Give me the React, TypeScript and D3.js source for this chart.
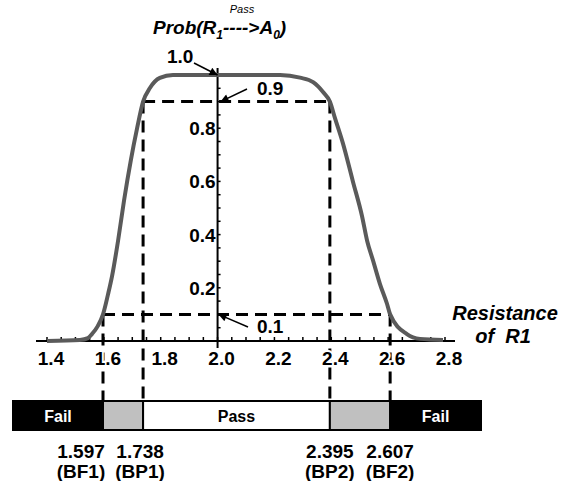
import * as d3 from "d3";

// curve
const resistance = [1.4, 1.516, 1.544, 1.558, 1.579, 1.597, 1.615, 1.629, 1.65, 1.671, 1.695, 1.717, 1.738, 1.762, 1.797, 1.843, 2.22, 2.29, 2.336, 2.371, 2.395, 2.413, 2.441, 2.476, 2.508, 2.526, 2.547, 2.571, 2.596, 2.607, 2.666, 2.712, 2.793];
const prob = [0, 0.004, 0.011, 0.026, 0.057, 0.1, 0.177, 0.245, 0.377, 0.528, 0.68, 0.8, 0.9, 0.951, 0.989, 1.0, 1.0, 0.99, 0.973, 0.936, 0.9, 0.838, 0.743, 0.6, 0.47, 0.377, 0.302, 0.215, 0.14, 0.1, 0.026, 0.008, 0.004];

const xTicks = [1.4, 1.6, 1.8, 2.0, 2.2, 2.4, 2.6, 2.8];
const yTicks = [0.2, 0.4, 0.6, 0.8];

const breakValues = [1.597, 1.738, 2.395, 2.607];
const breakNames = ["(BF1)", "(BP1)", "(BP2)", "(BF2)"];
const breakLevels = [0.1, 0.9, 0.9, 0.1];

const zoneLabels = ["Fail", "", "Pass", "", "Fail"];
const zoneFills = ["#000", "#c0c0c0", "#fff", "#c0c0c0", "#000"];
const zoneText = ["#fff", "#000", "#000", "#000", "#fff"];

const FONT = "'Liberation Sans', Arial, Helvetica, sans-serif";
const BAR = { left: 13, right: 481, top: 401, bottom: 430 };

export default function App() {
  const x = d3.scaleLinear().domain([1.4, 2.8]).range([47, 445]);
  const y = d3.scaleLinear().domain([0, 1]).range([341, 75]);

  const line = d3
    .line<number>()
    .x((_, i) => x(resistance[i]))
    .y((d) => y(d))
    .curve(d3.curveMonotoneX);

  const x0 = x(2.0);
  const minorX = d3.range(0, 29).map((i) => 1.4 + i * 0.05);
  const minorY = d3.range(1, 20).map((i) => i * 0.05);

  const edges = [BAR.left, ...breakValues.map((v) => x(v)), BAR.right];
  const dash = "12,7";
  const labelShift = [-22, -3, 0, 0];

  return (
    <svg
      width={573}
      height={481}
      style={{ position: "absolute", left: 0, top: 0, background: "#fff" }}
      fontFamily={FONT}
      fontWeight="bold"
    >
      <defs>
        <marker id="arr" viewBox="0 0 10 10" refX="10" refY="5" markerWidth="10" markerHeight="8" markerUnits="userSpaceOnUse" orient="auto">
          <path d="M0,0 L10,5 L0,10 z" fill="#000" />
        </marker>
      </defs>

      {/* dashed guides */}
      <line x1={x(breakValues[1])} x2={x(breakValues[2])} y1={y(0.9)} y2={y(0.9)} stroke="#000" strokeWidth={3} strokeDasharray={dash} />
      <line x1={x(breakValues[0])} x2={x(breakValues[3])} y1={y(0.1)} y2={y(0.1)} stroke="#000" strokeWidth={3} strokeDasharray={dash} />
      {breakValues.map((v, i) => (
        <line key={v} x1={x(v)} x2={x(v)} y1={y(breakLevels[i])} y2={BAR.top} stroke="#000" strokeWidth={3} strokeDasharray={dash} />
      ))}

      {/* axes */}
      <line x1={36} x2={455} y1={y(0)} y2={y(0)} stroke="#000" strokeWidth={2} />
      <line x1={x0} x2={x0} y1={68} y2={348} stroke="#000" strokeWidth={2} />
      {minorX.map((v, i) => (
        <line key={i} x1={x(v)} x2={x(v)} y1={y(0) - 4} y2={y(0)} stroke="#000" strokeWidth={1.5} />
      ))}
      {minorY.map((v, i) => (
        <line key={i} x1={x0} x2={x0 + 3} y1={y(v)} y2={y(v)} stroke="#000" strokeWidth={1.5} />
      ))}
      {xTicks.map((v) => (
        <text key={v} x={x(v) + 4} y={365} textAnchor="middle" fontSize={19} stroke="#fff" strokeWidth={4} paintOrder="stroke">
          {v.toFixed(1)}
        </text>
      ))}
      {yTicks.map((v) => (
        <text key={v} x={x0 - 2} y={y(v) + 7} textAnchor="end" fontSize={19}>
          {v.toFixed(1)}
        </text>
      ))}

      {/* curve */}
      <path d={line(prob) ?? ""} fill="none" stroke="#5a5a5a" strokeWidth={4} strokeLinejoin="round" />

      {/* annotations */}
      <text x={167} y={63} fontSize={19}>1.0</text>
      <line x1={194} y1={63} x2={x0} y2={y(1)} stroke="#000" strokeWidth={1.5} markerEnd="url(#arr)" />
      <text x={257} y={95} fontSize={19}>0.9</text>
      <line x1={247} y1={89} x2={x0 + 3} y2={y(0.9)} stroke="#000" strokeWidth={1.5} markerEnd="url(#arr)" />
      <text x={257} y={333} fontSize={19}>0.1</text>
      <line x1={248} y1={327} x2={x0 + 1} y2={y(0.1)} stroke="#000" strokeWidth={1.5} markerEnd="url(#arr)" />

      {/* titles */}
      <text x={153} y={34} fontSize={19} fontStyle="italic">
        Prob(R<tspan dy={5} fontSize={12}>1</tspan>
        <tspan dy={-5}>----&gt;A</tspan>
        <tspan dy={5} fontSize={12}>0</tspan>
        <tspan dy={-5}>)</tspan>
      </text>
      <text x={242} y={13} fontSize={11} fontStyle="italic" fontWeight="normal" textAnchor="middle">Pass</text>
      <text x={505} y={320} fontSize={20} fontStyle="italic" textAnchor="middle">Resistance</text>
      <text x={503} y={343} fontSize={20} fontStyle="italic" textAnchor="middle" style={{ whiteSpace: "pre" }}>of  R1</text>

      {/* pass / fail bar */}
      {zoneFills.map((f, i) => (
        <rect key={i} x={edges[i]} y={BAR.top} width={edges[i + 1] - edges[i]} height={BAR.bottom - BAR.top} fill={f} stroke="#000" strokeWidth={2} />
      ))}
      {zoneLabels.map((t, i) =>
        t ? (
          <text key={i} x={(edges[i] + edges[i + 1]) / 2} y={422} textAnchor="middle" fontSize={16} fill={zoneText[i]}>
            {t}
          </text>
        ) : null
      )}
      {breakValues.map((v, i) => (
        <g key={v}>
          <text x={x(v) + labelShift[i]} y={458} textAnchor="middle" fontSize={19}>{v.toFixed(3)}</text>
          <text x={x(v) + labelShift[i]} y={478} textAnchor="middle" fontSize={19}>{breakNames[i]}</text>
        </g>
      ))}
    </svg>
  );
}
